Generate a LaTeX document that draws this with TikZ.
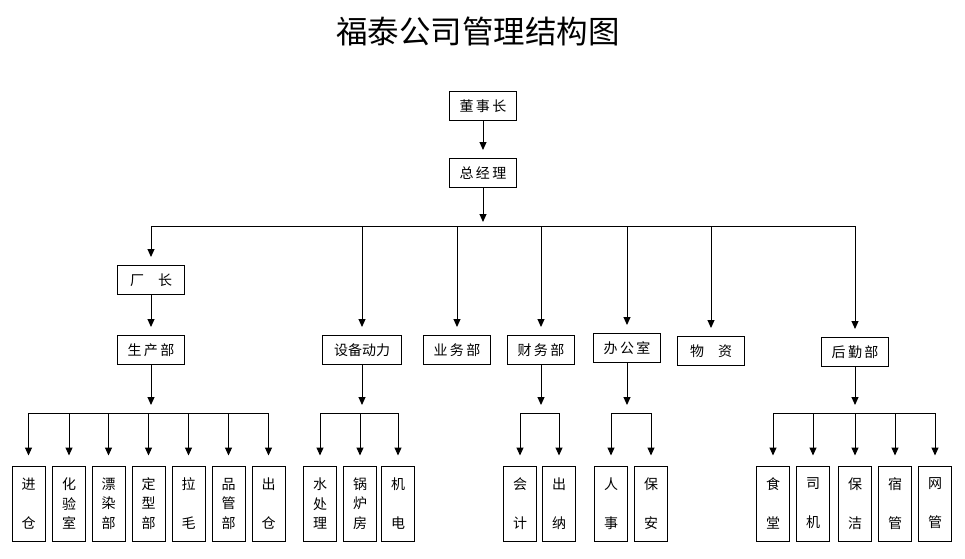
\documentclass[tikz,border=0pt]{standalone}
\usepackage{fontspec}
\setmainfont{Noto Sans CJK SC}
\usetikzlibrary{
	arrows.meta,
	positioning
}
\tikzset{
  % arrow
	cstra/.style      ={-{Triangle[length=8pt,width=7pt]}, line width=1pt, shorten >=8pt}, % down arrow
	cstline/.style    ={line width=1pt}, % bus line
  % node
	cstbox/.style     ={draw=black,line width=1pt,minimum width=67pt,minimum height=29pt,inner sep=0pt,font=\fontsize{14}{16}\selectfont},
	cstvbox/.style    ={draw=black,line width=1pt,minimum width=33pt,minimum height=75pt,inner sep=0pt,align=center,font=\fontsize{14}{19.5}\selectfont}
}
\begin{document}
\begin{tikzpicture}[x=1pt,y=-1pt]
				\useasboundingbox (0,0) rectangle (965,558);
				\node (title) at (478,31) {\fontsize{31.5}{32}\selectfont 福泰公司管理结构图};
				% top
				\node[cstbox] (dsz) at (483,106) {董\,事\,长};
				\node[cstbox] (zjl) at (483,173) {总\,经\,理};
				\coordinate (bus) at (483,226);
				\draw[cstra] (dsz) -- (zjl);
				\draw[cstra,shorten >=4pt] (zjl) -- (bus);
				% departments
				\node[cstbox] (cz) at (151,280) {厂\hspace{14pt}长};
				\node[cstbox] (scb) at (151,350) {生\,产\,部};
				\node[cstbox,minimum width=79pt] (sbdl) at (362,350) {设备动力};
				\node[cstbox] (ywb) at (457,350) {业\,务\,部};
				\node[cstbox] (cwb) at (541,350) {财\,务\,部};
				\node[cstbox] (bgs) at (627,348) {办\,公\,室};
				\node[cstbox] (wz) at (711,351) {物\hspace{14pt}资};
				\node[cstbox] (hqb) at (855,352) {后\,勤\,部};
				\draw[cstline] (cz.north |- bus) -- (hqb.north |- bus);
				\foreach \n in {cz,sbdl,ywb,cwb,bgs,wz,hqb}
					\draw[cstra] (\n.north |- bus) -- (\n.north);
				\draw[cstra] (cz) -- (scb);
				% bottom boxes
				\coordinate (bus2) at (0,413);
				\node[cstvbox] (jc) at (28.5,503.5) {进\\[19.5pt]仓};
				\node[cstvbox] (hys) at (69,503.5) {化\\验\\室};
				\node[cstvbox] (rrb) at (108.5,503.5) {漂\\染\\部};
				\node[cstvbox] (dxb) at (148.5,503.5) {定\\型\\部};
				\node[cstvbox] (lm) at (188.5,503.5) {拉\\[19.5pt]毛};
				\node[cstvbox] (pgb) at (228.5,503.5) {品\\管\\部};
				\node[cstvbox] (cc) at (268.5,503.5) {出\\[19.5pt]仓};
				\node[cstvbox] (scl) at (320,503.5) {水\\处\\理};
				\node[cstvbox] (glf) at (360,503.5) {锅\\炉\\房};
				\node[cstvbox] (jd) at (398,503.5) {机\\[19.5pt]电};
				\node[cstvbox] (kj) at (520,503.5) {会\\[19.5pt]计};
				\node[cstvbox] (cn) at (559,503.5) {出\\[19.5pt]纳};
				\node[cstvbox] (rs) at (611,503.5) {人\\[19.5pt]事};
				\node[cstvbox] (ba) at (651,503.5) {保\\[19.5pt]安};
				\node[cstvbox] (st) at (773,503.5) {食\\[19.5pt]堂};
				\node[cstvbox] (sj) at (813,503.5) {司\\[19.5pt]机};
				\node[cstvbox] (bj) at (855,503.5) {保\\[19.5pt]洁};
				\node[cstvbox] (sg) at (895,503.5) {宿\\[19.5pt]管};
				\node[cstvbox] (wg) at (935,503.5) {网\\[19.5pt]管};
				% bus lines
				\draw[cstline] (jc.north |- bus2) -- (cc.north |- bus2);
				\draw[cstline] (scl.north |- bus2) -- (jd.north |- bus2);
				\draw[cstline] (kj.north |- bus2) -- (cn.north |- bus2);
				\draw[cstline] (rs.north |- bus2) -- (ba.north |- bus2);
				\draw[cstline] (st.north |- bus2) -- (wg.north |- bus2);
				\foreach \p in {scb,sbdl,cwb,bgs,hqb}
					\draw[cstra] (\p.south) -- (\p.south |- bus2);
				\foreach \n in {jc,hys,rrb,dxb,lm,pgb,cc,scl,glf,jd,kj,cn,rs,ba,st,sj,bj,sg,wg}
					\draw[cstra,shorten >=10pt] (\n.north |- bus2) -- (\n.north);
			\end{tikzpicture}
\end{document}
